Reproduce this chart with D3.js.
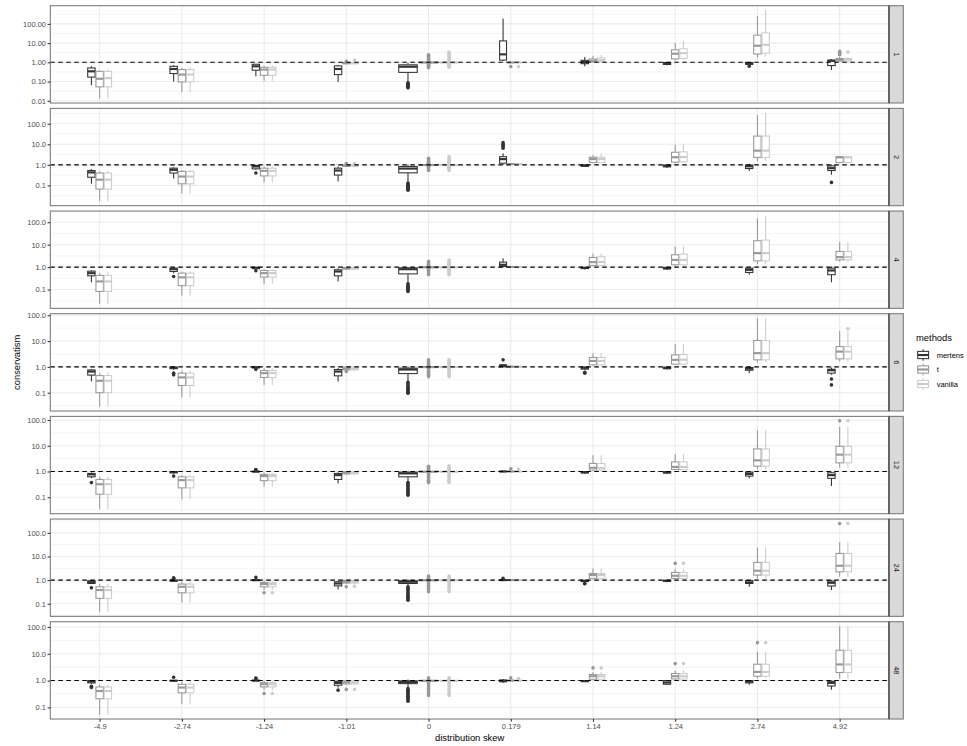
<!DOCTYPE html>
<html><head><meta charset="utf-8">
<script src="https://cdn.jsdelivr.net/npm/d3@7"></script>
<style>body{margin:0;background:#fff} text{font-family:"Liberation Sans",Arial,Helvetica,sans-serif}</style>
</head><body><svg id="c" width="967" height="746"></svg>
<script>
// ---------------- DATA ----------------
const categories = ["-4.9","-2.74","-1.24","-1.01","0","0.179","1.14","1.24","2.74","4.92"];
const facets = ["1","2","4","6","12","24","48"];
const methods = ["mertens","t","vanilla"];
const methodColors = ["#333333","#989898","#cccccc"];
const nObs = [16,16,16,16,100,14,16,16,16,16];
// each entry: [lower whisker, q1, median, q3, upper whisker, outliers]
const m1 = [[0.065,0.17,0.34,0.51,0.62,[]],[0.10,0.26,0.45,0.62,0.70,[]],[0.19,0.39,0.62,0.79,0.85,[]],[0.096,0.23,0.45,0.65,0.70,[]],
 [0.09,0.30,0.59,0.74,0.95,[0.085,0.079,0.073,0.068,0.063,0.058,0.054,0.05,0.047]],[1.17,1.3,2.6,13,190,[]],[0.62,0.85,1.04,1.27,1.9,[]],
 [0.7,0.78,0.85,0.98,1.0,[]],[0.7,0.79,0.85,0.98,1.0,[0.62]],[0.4,0.68,1.2,1.3,1.5,[]]];
const t1 = [[0.013,0.053,0.14,0.34,0.39,[]],[0.029,0.096,0.23,0.42,0.51,[]],[0.11,0.21,0.42,0.55,0.67,[]],[0.80,0.86,0.90,0.95,1.0,[1.12]],
 [0.93,0.96,0.98,1.01,1.05,[2.5,2.3,2.1,1.9,1.7,1.5,1.35,1.2,0.85,0.78,0.7,0.63,0.57,0.52]],[0.96,0.97,0.98,0.99,1.0,[0.6]],
 [1.0,1.04,1.2,1.5,2.2,[]],[1.27,1.5,2.8,4.5,10,[]],[1.8,2.7,7.3,26,257,[]],[1.1,1.17,1.37,1.6,1.9,[3.7,3.2,2.8,2.5]]];
const v1 = [[0.013,0.053,0.15,0.34,0.42,[]],[0.029,0.096,0.23,0.42,0.55,[]],[0.11,0.21,0.42,0.55,0.70,[]],[0.80,0.86,0.90,0.95,1.0,[1.3]],
 [0.93,0.96,0.98,1.01,1.05,[3.4,3.0,2.6,2.2,1.9,1.6,1.4,1.2,0.85,0.75,0.67,0.6,0.55]],[0.96,0.97,0.98,0.99,1.0,[0.6]],
 [1.0,1.08,1.3,1.7,2.5,[]],[1.37,1.6,3.0,5.1,12.7,[]],[2.0,3.0,8.2,34,520,[]],[1.1,1.17,1.37,1.6,1.9,[3.4]]];

const m2 = [[0.12,0.25,0.43,0.53,0.62,[]],[0.22,0.40,0.57,0.69,0.77,[]],[0.57,0.64,0.83,0.93,1.0,[0.40]],[0.155,0.32,0.53,0.69,0.83,[]],
 [0.14,0.41,0.66,0.83,1.0,[0.13,0.115,0.1,0.09,0.08,0.072,0.065,0.058]],[1.0,1.2,1.9,2.5,3.7,[6.4,7.5,8.7,10,12]],[0.8,0.85,0.92,1.0,1.02,[]],
 [0.7,0.8,0.88,0.98,1.0,[]],[0.5,0.66,0.85,0.97,1.0,[]],[0.33,0.53,0.69,0.89,1.0,[0.14]]];
const t2 = [[0.017,0.066,0.19,0.40,0.48,[]],[0.04,0.12,0.27,0.48,0.57,[]],[0.14,0.29,0.51,0.69,0.83,[]],[0.80,0.85,0.9,0.97,1.0,[1.15]],
 [0.93,0.96,0.98,1.01,1.05,[2.1,1.9,1.7,1.5,1.35,1.2,0.85,0.75,0.67,0.6,0.53]],[1.0,1.05,1.1,1.15,1.2,[]],
 [1.2,1.3,1.9,2.35,3.05,[]],[1.2,1.35,2.35,4.1,9.6,[]],[1.56,2.3,4.9,25,263,[]],[1.2,1.3,2.3,2.5,2.7,[]]];
const v2 = [[0.017,0.066,0.19,0.40,0.51,[]],[0.04,0.12,0.27,0.48,0.57,[]],[0.14,0.29,0.51,0.69,0.83,[]],[0.80,0.85,0.9,0.97,1.0,[1.15]],
 [0.93,0.96,0.98,1.01,1.05,[2.5,2.2,1.9,1.7,1.5,1.35,1.2,0.85,0.75,0.67,0.6,0.53]],[1.0,1.05,1.1,1.15,1.2,[]],
 [1.2,1.3,1.9,2.35,3.7,[]],[1.25,1.4,2.4,4.3,10.4,[]],[1.6,2.3,4.9,25,340,[]],[1.2,1.3,2.3,2.5,2.7,[]]];

const m3 = [[0.21,0.41,0.54,0.66,0.74,[]],[0.54,0.64,0.81,0.9,1.0,[0.38]],[0.75,0.85,0.93,0.98,1.0,[0.69]],[0.23,0.41,0.64,0.76,0.9,[]],
 [0.19,0.50,0.81,0.93,1.0,[0.18,0.16,0.145,0.13,0.12,0.11,0.1,0.09,0.083]],[1.0,1.07,1.27,1.67,2.5,[]],[0.78,0.86,0.92,0.98,1.0,[]],
 [0.76,0.83,0.9,0.97,1.0,[]],[0.46,0.58,0.76,0.9,1.0,[]],[0.21,0.46,0.71,0.9,1.07,[]]];
const t3 = [[0.023,0.083,0.23,0.43,0.54,[]],[0.055,0.15,0.35,0.54,0.64,[]],[0.18,0.36,0.54,0.71,0.81,[]],[0.75,0.82,0.88,0.95,1.0,[]],
 [0.93,0.96,0.98,1.01,1.05,[1.8,1.6,1.45,1.3,1.2,1.1,0.88,0.8,0.7,0.62,0.55,0.5,0.46]],[0.97,1.0,1.02,1.04,1.06,[]],
 [1.07,1.19,1.67,2.7,3.9,[]],[1.1,1.27,2.1,3.55,8.3,[]],[1.36,1.9,4.2,15,152,[]],[1.8,2.1,2.8,5.0,13,[]]];
const v3 = [[0.023,0.083,0.23,0.43,0.6,[]],[0.055,0.15,0.35,0.54,0.64,[]],[0.18,0.36,0.54,0.71,0.81,[]],[0.75,0.82,0.88,0.95,1.0,[]],
 [0.93,0.96,0.98,1.01,1.05,[2.05,1.8,1.6,1.45,1.3,1.2,1.1,0.88,0.8,0.7,0.62,0.55,0.5,0.46]],[0.97,1.0,1.02,1.04,1.06,[]],
 [1.07,1.19,1.7,2.9,4.1,[]],[1.1,1.27,2.1,3.8,8.3,[]],[1.36,1.9,4.2,16,200,[]],[1.8,2.1,2.8,5.0,13,[]]];

const m4 = [[0.27,0.48,0.66,0.76,0.81,[]],[0.75,0.85,0.92,0.97,1.0,[0.57,0.49]],[0.88,0.92,0.96,0.99,1.0,[0.8]],[0.27,0.45,0.66,0.79,0.89,[]],
 [0.27,0.55,0.79,0.89,1.0,[0.25,0.22,0.19,0.17,0.15,0.135,0.12,0.11,0.1,0.095]],[0.97,1.0,1.1,1.2,1.25,[1.87]],[0.75,0.82,0.92,0.98,1.0,[0.57,0.62]],
 [0.8,0.85,0.9,0.97,1.0,[]],[0.57,0.74,0.85,0.94,1.0,[]],[0.5,0.57,0.74,0.81,0.94,[0.34,0.2]]];
const t4 = [[0.029,0.10,0.29,0.46,0.57,[]],[0.067,0.19,0.39,0.57,0.72,[]],[0.2,0.39,0.57,0.72,0.89,[]],[0.7,0.76,0.85,0.98,1.0,[0.66]],
 [0.93,0.96,0.98,1.01,1.05,[1.87,1.7,1.5,1.35,1.2,1.1,0.88,0.78,0.68,0.6,0.52,0.46,0.42]],[0.97,1.0,1.02,1.04,1.06,[]],
 [1.1,1.2,1.7,2.3,3.4,[]],[1.2,1.27,1.87,2.9,7.6,[]],[1.5,1.87,3.4,10.5,77,[]],[1.6,2.04,3.9,6.1,25,[]]];
const v4 = [[0.029,0.10,0.29,0.46,0.6,[]],[0.067,0.19,0.39,0.57,0.72,[]],[0.2,0.39,0.57,0.72,0.89,[]],[0.7,0.76,0.85,0.98,1.0,[]],
 [0.93,0.96,0.98,1.01,1.05,[1.87,1.7,1.5,1.35,1.2,1.1,0.88,0.78,0.68,0.6,0.52,0.46,0.42]],[0.97,1.0,1.02,1.04,1.06,[]],
 [1.1,1.2,1.7,2.3,3.4,[]],[1.2,1.27,1.9,3.0,7.6,[]],[1.5,1.87,3.4,10.5,77,[]],[1.6,2.04,3.9,6.1,24,[30]]];

const m5 = [[0.54,0.62,0.77,0.84,0.91,[0.37]],[0.83,0.88,0.95,0.99,1.0,[0.66]],[0.95,0.97,0.99,1.0,1.02,[1.2,1.15]],[0.34,0.49,0.72,0.84,0.91,[]],
 [0.40,0.62,0.84,0.94,1.0,[0.37,0.33,0.3,0.27,0.24,0.21,0.19,0.17,0.15,0.135,0.12]],[0.97,0.98,1.0,1.02,1.05,[]],[0.8,0.88,0.93,0.98,1.0,[]],
 [0.8,0.87,0.93,0.98,1.0,[]],[0.54,0.66,0.8,0.94,1.0,[]],[0.27,0.54,0.72,0.89,0.97,[]]];
const t5 = [[0.034,0.13,0.32,0.49,0.62,[]],[0.083,0.23,0.46,0.62,0.72,[]],[0.26,0.44,0.66,0.77,0.89,[]],[0.75,0.8,0.9,0.97,1.0,[]],
 [0.93,0.96,0.98,1.01,1.05,[1.6,1.45,1.3,1.2,1.1,0.88,0.78,0.68,0.6,0.52,0.46,0.42,0.37]],[0.97,0.98,1.0,1.02,1.05,[1.27]],
 [1.05,1.13,1.39,2.04,4.3,[]],[1.13,1.19,1.5,2.36,4.7,[]],[1.2,1.6,2.7,7.5,40,[]],[1.43,2.16,4.5,9.5,53,[93]]];
const v5 = [[0.034,0.13,0.32,0.49,0.62,[]],[0.083,0.23,0.46,0.62,0.72,[]],[0.26,0.44,0.66,0.77,0.89,[]],[0.75,0.8,0.9,0.97,1.0,[]],
 [0.93,0.96,0.98,1.01,1.05,[1.65,1.45,1.3,1.2,1.1,0.88,0.78,0.68,0.6,0.52,0.46,0.42,0.37]],[0.97,0.98,1.0,1.02,1.05,[1.25]],
 [1.05,1.13,1.35,2.04,4.3,[]],[1.13,1.19,1.5,2.36,4.7,[]],[1.2,1.6,2.7,7.5,40,[]],[1.43,2.16,4.5,9.5,53,[93]]];

const m6 = [[0.68,0.72,0.82,0.94,1.0,[0.47]],[0.88,0.9,0.96,1.0,1.05,[1.25,1.2,1.15]],[0.95,0.97,0.99,1.01,1.05,[1.3]],[0.4,0.57,0.72,0.85,0.94,[]],
 [0.55,0.72,0.85,0.94,1.07,[0.52,0.45,0.4,0.35,0.3,0.26,0.23,0.2,0.18,0.16,0.14]],[0.97,0.98,1.0,1.02,1.05,[1.2]],[0.8,0.87,0.93,0.98,1.0,[0.72,0.7]],
 [0.82,0.88,0.93,0.98,1.0,[]],[0.52,0.72,0.8,0.95,1.02,[]],[0.38,0.56,0.77,0.91,1.0,[]]];
const t6 = [[0.045,0.17,0.38,0.52,0.68,[]],[0.11,0.29,0.52,0.68,0.85,[]],[0.38,0.52,0.68,0.8,0.94,[0.29]],[0.7,0.75,0.85,0.97,1.0,[0.52]],
 [0.93,0.96,0.98,1.01,1.05,[1.47,1.35,1.2,1.1,0.88,0.78,0.68,0.6,0.52,0.45,0.38,0.32]],[0.97,0.98,1.0,1.02,1.05,[]],
 [1.07,1.18,1.63,1.9,3.1,[]],[1.07,1.18,1.53,2.1,3.0,[5.1]],[1.18,1.63,2.5,5.6,24,[]],[1.38,2.25,4.06,13.5,40,[250]]];
const v6 = [[0.045,0.17,0.38,0.52,0.68,[]],[0.11,0.29,0.52,0.68,0.85,[]],[0.38,0.52,0.68,0.8,0.94,[0.29]],[0.7,0.75,0.85,0.97,1.0,[0.55]],
 [0.93,0.96,0.98,1.01,1.05,[1.47,1.35,1.2,1.1,0.88,0.78,0.68,0.6,0.52,0.45,0.38,0.32]],[0.97,0.98,1.0,1.02,1.05,[]],
 [1.07,1.18,1.63,1.9,3.1,[]],[1.07,1.18,1.53,2.1,3.0,[5.1]],[1.18,1.63,2.5,5.6,24,[]],[1.38,2.25,4.06,13.5,40,[250]]];

const m7 = [[0.75,0.82,0.92,1.0,1.03,[0.61,0.55]],[0.95,0.97,0.99,1.01,1.05,[1.33]],[0.97,0.98,1.0,1.02,1.05,[1.2,1.25]],[0.55,0.67,0.82,0.94,1.0,[0.44]],
 [0.55,0.77,0.89,0.97,1.09,[0.5,0.44,0.4,0.36,0.32,0.29,0.26,0.23,0.21,0.19,0.17]],[0.82,0.9,0.98,1.05,1.15,[]],[0.88,0.92,0.96,0.99,1.0,[]],
 [0.7,0.73,0.85,1.0,1.02,[]],[0.7,0.82,0.92,1.0,1.02,[]],[0.46,0.63,0.82,0.94,1.0,[]]];
const t7 = [[0.054,0.21,0.41,0.58,0.73,[]],[0.13,0.35,0.55,0.73,0.89,[]],[0.44,0.58,0.73,0.84,0.97,[0.33]],[0.7,0.75,0.87,0.97,1.0,[0.47]],
 [0.93,0.96,0.98,1.01,1.05,[1.26,1.15,1.1,0.88,0.78,0.68,0.6,0.52,0.45,0.38,0.32,0.28]],[0.97,0.98,1.0,1.02,1.05,[1.26]],
 [1.03,1.12,1.45,1.68,2.1,[2.97]],[1.09,1.15,1.45,1.83,2.4,[4.3]],[1.19,1.45,2.1,4.08,11.8,[26]],[1.19,2.0,4.0,13.5,107,[]]];
const v7 = [[0.054,0.21,0.41,0.58,0.73,[]],[0.13,0.35,0.55,0.73,0.89,[]],[0.44,0.58,0.73,0.84,0.97,[0.33]],[0.7,0.75,0.87,0.97,1.0,[0.47]],
 [0.93,0.96,0.98,1.01,1.05,[1.26,1.15,1.1,0.88,0.78,0.68,0.6,0.52,0.45,0.38,0.32,0.28]],[0.97,0.98,1.0,1.02,1.05,[1.19]],
 [1.03,1.12,1.45,1.68,2.1,[2.97]],[1.09,1.15,1.45,1.83,2.4,[4.3]],[1.19,1.45,2.1,4.08,11.8,[26]],[1.19,2.0,4.0,13.5,107,[]]];

const facetData = [[m1,t1,v1],[m2,t2,v2],[m3,t3,v3],[m4,t4,v4],[m5,t5,v5],[m6,t6,v6],[m7,t7,v7]];

// ---------------- LAYOUT ----------------
const svg = d3.select("#c");
const left = 50.3, right = 889, top0 = 5.7, panelH = 97.3, stepY = 102.67;
const stripW = 14.3;
const lw = 1.07;
const borderCol = "#7a7a7a";
const tickFont = "7.5px", titleFont = "9.4px";
const x = d3.scalePoint().domain(categories).range([left, right]).padding(0.6);
const stepX = x.step();
const maxN = d3.max(nObs);

facets.forEach((f, p) => {
  const yTop = top0 + p * stepY, yBot = yTop + panelH;
  const sets = facetData[p];
  const vals = [];
  sets.forEach(s => s.forEach(d => { vals.push(d[0], d[4], ...d[5]); }));
  const lmin = Math.log10(d3.min(vals)), lmax = Math.log10(d3.max(vals));
  const pad = (lmax - lmin) * 0.05;
  const lo = lmin - pad, hi = lmax + pad;
  const y = d3.scaleLog().domain([Math.pow(10, lo), Math.pow(10, hi)]).range([yBot, yTop]);
  const g = svg.append("g");
  g.append("rect").attr("x", left).attr("y", yTop).attr("width", right - left).attr("height", panelH).attr("fill", "#fff");
  const majors = d3.range(Math.ceil(lo), Math.floor(hi) + 1);
  const minors = d3.range(Math.floor(lo), Math.ceil(hi) + 1).map(e => e + 0.5).filter(e => e > lo && e < hi);
  g.selectAll(".mn").data(minors).join("line")
    .attr("x1", left).attr("x2", right)
    .attr("y1", e => y(Math.pow(10, e))).attr("y2", e => y(Math.pow(10, e)))
    .attr("stroke", "#ebebeb").attr("stroke-width", lw / 2);
  g.selectAll(".mj").data(majors).join("line")
    .attr("x1", left).attr("x2", right)
    .attr("y1", e => y(Math.pow(10, e))).attr("y2", e => y(Math.pow(10, e)))
    .attr("stroke", "#ebebeb").attr("stroke-width", lw);
  g.selectAll(".vx").data(categories).join("line")
    .attr("x1", d => x(d)).attr("x2", d => x(d))
    .attr("y1", yTop).attr("y2", yBot)
    .attr("stroke", "#ebebeb").attr("stroke-width", lw);

  categories.forEach((c, i) => {
    const r = Math.sqrt(nObs[i] / maxN);
    const slot = stepX * 0.25 * r;
    const start = x(c) - 1.5 * slot;
    methods.forEach((m, k) => {
      const d = sets[k][i];
      const col = methodColors[k];
      const cx = start + (k + 0.5) * slot;
      const hw = slot * 0.9 / 2;
      const bg = g.append("g");
      bg.selectAll("circle").data(d[5]).join("circle")
        .attr("cx", cx).attr("cy", v => y(v)).attr("r", 1.8).attr("fill", col);
      bg.append("line").attr("x1", cx).attr("x2", cx).attr("y1", y(d[3])).attr("y2", y(d[4]))
        .attr("stroke", col).attr("stroke-width", lw);
      bg.append("line").attr("x1", cx).attr("x2", cx).attr("y1", y(d[1])).attr("y2", y(d[0]))
        .attr("stroke", col).attr("stroke-width", lw);
      bg.append("rect").attr("x", cx - hw).attr("width", 2 * hw)
        .attr("y", y(d[3])).attr("height", Math.max(0, y(d[1]) - y(d[3])))
        .attr("fill", "#fff").attr("stroke", col).attr("stroke-width", lw);
      bg.append("line").attr("x1", cx - hw).attr("x2", cx + hw).attr("y1", y(d[2])).attr("y2", y(d[2]))
        .attr("stroke", col).attr("stroke-width", lw * 2);
    });
  });

  g.append("line").attr("x1", left).attr("x2", right).attr("y1", y(1)).attr("y2", y(1))
    .attr("stroke", "#000").attr("stroke-width", lw).attr("stroke-dasharray", "4.5,3.5");

  g.append("rect").attr("x", left).attr("y", yTop).attr("width", right - left).attr("height", panelH)
    .attr("fill", "none").attr("stroke", borderCol).attr("stroke-width", lw);

  const dec = Math.max(0, -majors[0]);
  const ax = g.append("g").attr("transform", `translate(${left},0)`)
    .call(d3.axisLeft(y).tickValues(majors.map(e => Math.pow(10, e)))
      .tickFormat(v => v.toFixed(dec)).tickSize(2.75).tickPadding(1.5));
  ax.select(".domain").remove();
  ax.selectAll(".tick line").attr("stroke", "#333").attr("stroke-width", lw);
  ax.selectAll(".tick text").attr("fill", "#4d4d4d").style("font-size", tickFont)
    .style("font-family", '"Liberation Sans",Arial,sans-serif');

  g.append("rect").attr("x", right).attr("y", yTop).attr("width", stripW).attr("height", panelH)
    .attr("fill", "#d9d9d9").attr("stroke", borderCol).attr("stroke-width", lw);
  g.append("line").attr("x1", right).attr("x2", right).attr("y1", yTop).attr("y2", yBot)
    .attr("stroke", "#333").attr("stroke-width", lw);
  g.append("text").attr("transform", `translate(${right + stripW / 2},${yTop + panelH / 2}) rotate(90)`)
    .attr("text-anchor", "middle").attr("dominant-baseline", "central")
    .attr("fill", "#1a1a1a").style("font-size", tickFont).text(f);

  if (p === facets.length - 1) {
    const xa = g.append("g").attr("transform", `translate(0,${yBot})`)
      .call(d3.axisBottom(x).tickSize(2.75).tickPadding(2));
    xa.select(".domain").remove();
    xa.selectAll(".tick line").attr("stroke", "#333").attr("stroke-width", lw);
    xa.selectAll(".tick text").attr("fill", "#4d4d4d").style("font-size", tickFont)
      .style("font-family", '"Liberation Sans",Arial,sans-serif');
  }
});

const panelsBottom = top0 + (facets.length - 1) * stepY + panelH;
svg.append("text").attr("x", (left + right) / 2).attr("y", 740.5).attr("text-anchor", "middle")
  .attr("fill", "#000").style("font-size", titleFont).text("distribution skew");
svg.append("text").attr("transform", `translate(${19.5},${(top0 + panelsBottom) / 2}) rotate(-90)`)
  .attr("text-anchor", "middle").attr("fill", "#000").style("font-size", titleFont).text("conservatism");

const lg = svg.append("g");
const keyS = 14.5, keyX = 915.9, key0 = 347.75;
lg.append("text").attr("x", 916).attr("y", 341).attr("fill", "#000").style("font-size", titleFont).text("methods");
methods.forEach((m, k) => {
  const ky = key0 + k * keyS;
  const col = methodColors[k];
  const cx = keyX + keyS / 2;
  lg.append("line").attr("x1", cx).attr("x2", cx).attr("y1", ky + 0.1 * keyS).attr("y2", ky + 0.25 * keyS).attr("stroke", col).attr("stroke-width", lw);
  lg.append("line").attr("x1", cx).attr("x2", cx).attr("y1", ky + 0.75 * keyS).attr("y2", ky + 0.9 * keyS).attr("stroke", col).attr("stroke-width", lw);
  lg.append("rect").attr("x", keyX + 0.125 * keyS).attr("y", ky + 0.25 * keyS).attr("width", 0.75 * keyS).attr("height", 0.5 * keyS)
    .attr("fill", "#fff").attr("stroke", col).attr("stroke-width", lw);
  lg.append("line").attr("x1", keyX + 0.125 * keyS).attr("x2", keyX + 0.875 * keyS).attr("y1", ky + 0.5 * keyS).attr("y2", ky + 0.5 * keyS)
    .attr("stroke", col).attr("stroke-width", lw * 2);
  lg.append("text").attr("x", 936.7).attr("y", ky + keyS / 2).attr("dominant-baseline", "central")
    .attr("fill", "#000").style("font-size", tickFont).text(m);
});
</script>
</body></html>
